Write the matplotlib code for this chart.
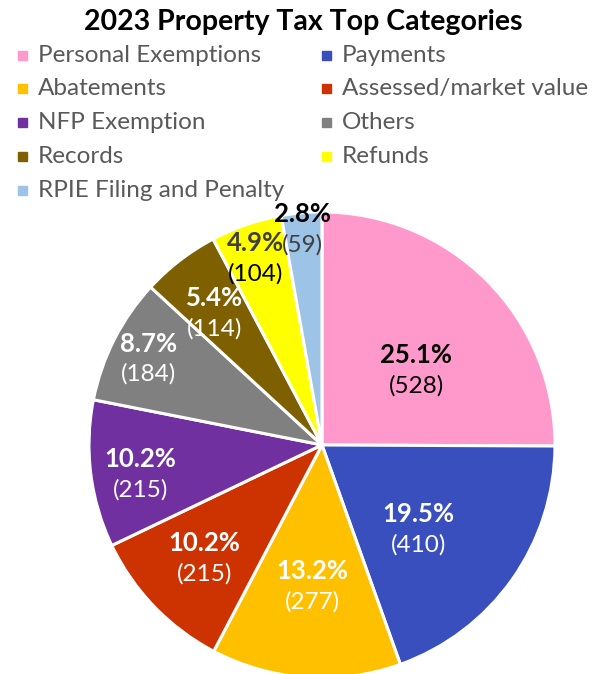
import numpy as np
import matplotlib.pyplot as plt

plt.rcParams['font.family'] = ['Lato', 'DejaVu Sans']

# 2023 Property Tax Top Categories
categories = ['Personal Exemptions', 'Payments', 'Abatements', 'Assessed/market value',
              'NFP Exemption', 'Others', 'Records', 'Refunds', 'RPIE Filing and Penalty']
counts = [528, 410, 277, 215, 215, 184, 114, 104, 59]
colors = ['#FF99CC', '#3A4FBE', '#FFC000', '#CC3300', '#7030A0',
          '#808080', '#7F6000', '#FFFF00', '#9DC3E6']

# label styling per slice: distance from centre, angle nudge (deg), colours of the two lines
label_r = [0.515, 0.55, 0.61, 0.70, 0.79, 0.83, 0.73, 0.85, 0.93]
label_da = [-6.5, -6, 0, 0, 2, 0.5, 1.5, 0.5, 0]
pct_col = ['black', 'white', 'white', 'white', 'white', 'white', 'white', '#404040', 'black']
cnt_col = ['black', 'white', 'white', 'white', 'white', 'white', 'white', 'black', '#404040']

fig = plt.figure(figsize=(6.07, 6.74), dpi=100)
ax = fig.add_axes([0.1466, -0.0059, 0.7677, 0.6914])

wedges, _ = ax.pie(counts, colors=colors, startangle=90, counterclock=False,
                   wedgeprops=dict(edgecolor='white', linewidth=2.2))
ax.set_xlim(-1, 1)
ax.set_ylim(-1, 1)
ax.set_aspect('equal')

total = sum(counts)
for w, v, r, da, pc, cc in zip(wedges, counts, label_r, label_da, pct_col, cnt_col):
    ang = np.deg2rad((w.theta1 + w.theta2) / 2 + da)
    x, y = r * np.cos(ang), r * np.sin(ang)
    ax.text(x, y + 0.066, f'{v / total * 100:.1f}%', ha='center', va='center',
            fontsize=18.5, fontweight='bold', color=pc)
    ax.text(x, y - 0.066, f'({v})', ha='center', va='center',
            fontsize=17.5, color=cc)

fig.text(0.5, 0.967, '2023 Property Tax Top Categories', ha='center', va='center',
         fontsize=20.5, fontweight='bold')

# legend, two columns filled row by row
for i, name in enumerate(categories):
    row, col = i // 2, i % 2
    xs = 18 / 607 + col * 304 / 607
    ys = 1 - (55 + row * 33.8) / 674
    fig.patches.append(plt.Rectangle((xs, ys - 4.5 / 674), 9 / 607, 9 / 674,
                                     transform=fig.transFigure, color=colors[i]))
    fig.text(xs + 20 / 607, ys, name, ha='left', va='center', fontsize=17.5, color='#595959')

plt.savefig('out.png', dpi=100)
